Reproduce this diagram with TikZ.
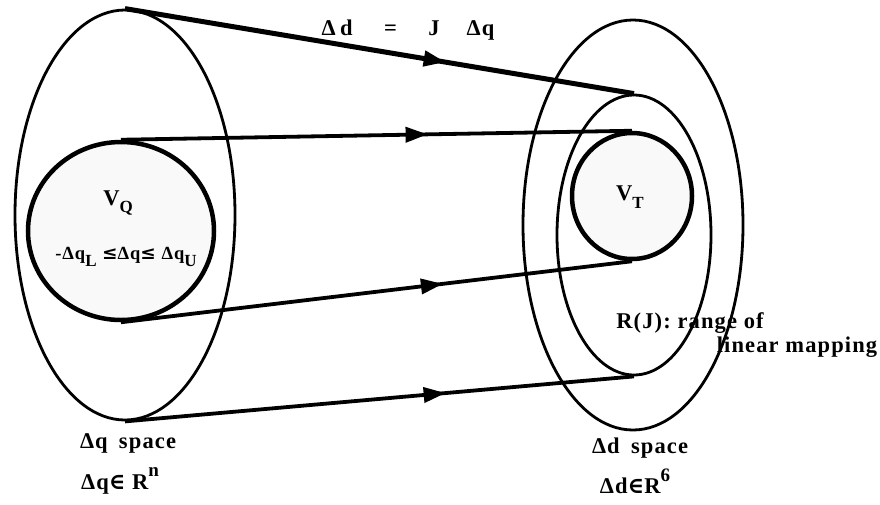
\documentclass[tikz,border=0pt]{standalone}
\usepackage{fontspec}
\setmainfont{Liberation Serif}[LetterSpace=5]
\newfontfamily\symf{DejaVu Serif}
\usetikzlibrary{shapes.geometric,decorations.markings,arrows.meta}
\newcommand\lowsub[1]{\raisebox{-0.35em}{\fontsize{17}{19}\selectfont #1}}
\newcommand\highsup[1]{\raisebox{0.55em}{\fontsize{19}{21}\selectfont #1}}
\begin{document}
\begin{tikzpicture}[x=1pt,y=-1pt,
  every node/.style={font=\fontsize{22.5}{26}\selectfont\bfseries},
  space/.style={draw, ellipse, line width=2.8pt, inner sep=0pt},
  volume/.style={draw, ellipse, line width=4.5pt, fill=gray!5, inner sep=0pt},
  map/.style={line width=3.8pt, postaction={decorate},
    decoration={markings, mark=at position #1 with {\arrow{Triangle[length=22pt,width=15pt]}}}},
  lbl/.style={inner sep=0pt}
]
\useasboundingbox (0,0) rectangle (880,504);
\fill[white] (0,0) rectangle (880,504);
% left side
\node[space, minimum width=220pt, minimum height=410pt] (lo) at (125,215) {};
\node[volume, minimum width=186pt, minimum height=178pt] (vq) at (121,231) {};
% right side
\node[space, minimum width=220pt, minimum height=410pt] (ro) at (633,225) {};
\node[space, minimum width=154pt, minimum height=280pt] (rm) at (634,235) {};
\node[volume, minimum width=120pt, minimum height=126pt] (vt) at (632,196) {};
% mapping arrows
\draw[map=0.63, line width=5pt] (lo.north) -- (rm.north);
\draw[map=0.6] (vq.north) -- (vt.north);
\draw[map=0.63] (vq.south) -- (vt.south);
\draw[map=0.63] (lo.south) -- (rm.south);
% texts
\node[lbl] (eq) at (408,30) {Δ\hspace{0.2em}d\hspace{1.4em}=\hspace{1.4em}J\hspace{1.2em}Δq};
\node[lbl] (vql) at (118,203) {V\lowsub{Q}};
\node[lbl] (con) at (126,257) {\fontsize{18.5}{21}\selectfont -Δq\lowsub{L} {\symf ≤}Δq{\symf ≤} Δq\lowsub{U}};
\node[lbl] (vtl) at (630,197) {V\lowsub{T}};
\node[lbl] (rj1) at (690,323) {R(J): range of};
\node[lbl] (rj2) at (797,347) {linear mapping};
\node[lbl] (qs) at (128,443) {Δq\hspace{0.5em}space};
\node[lbl] (qr) at (120,481) {Δq{\symf ∈} R\highsup{n}};
\node[lbl] (ds) at (640,448) {Δd\hspace{0.5em}space};
\node[lbl] (dr) at (635,481) {Δd{\symf ∈}R\highsup{6}};
\end{tikzpicture}
\end{document}
